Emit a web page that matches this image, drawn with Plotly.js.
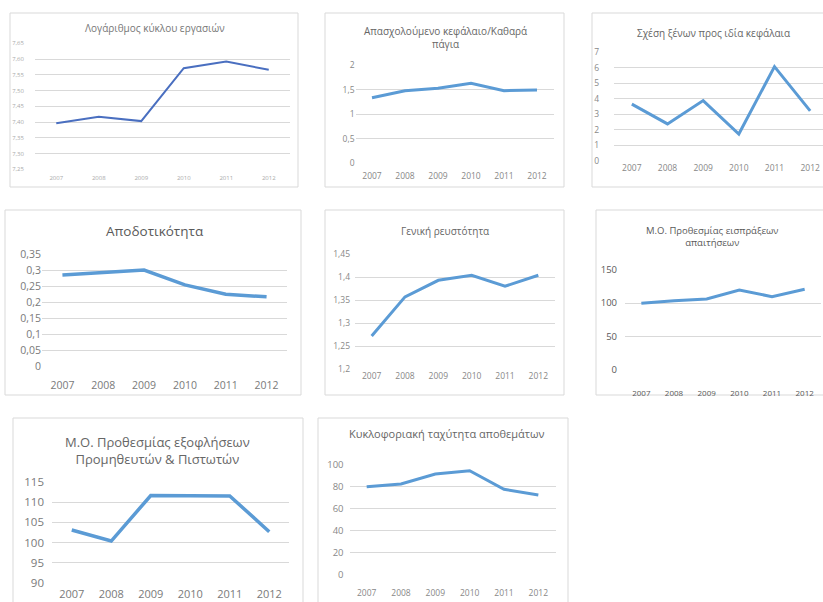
<!DOCTYPE html>
<html>
<head>
<meta charset="utf-8">
<script src="https://cdn.plot.ly/plotly-3.0.1.min.js"></script>
<style>html,body{margin:0;padding:0;background:#fff}#chart{width:823px;height:602px}</style>
</head>
<body>
<div id="chart"></div>
<script>
// ---- data ----
const years = ['2007', '2008', '2009', '2010', '2011', '2012'];

const titleLogTurnover = 'Λογάριθμος κύκλου εργασιών';
const logTurnover = [7.396, 7.417, 7.403, 7.571, 7.592, 7.566];
const logTurnoverTicks = [7.25, 7.30, 7.35, 7.40, 7.45, 7.50, 7.55, 7.60, 7.65];
const logTurnoverTickText = ['7,25', '7,30', '7,35', '7,40', '7,45', '7,50', '7,55', '7,60', '7,65'];

const titleCapital = 'Απασχολούμενο κεφάλαιο/Καθαρά<br>πάγια';
const capitalToFixed = [1.335, 1.478, 1.526, 1.628, 1.478, 1.49];
const capitalTicks = [0, 0.5, 1, 1.5, 2];
const capitalTickText = ['0', '0,5', '1', '1,5', '2'];

const titleDebt = 'Σχέση ξένων προς ιδία κεφάλαια';
const debtToEquity = [3.66, 2.39, 3.89, 1.74, 6.08, 3.23];
const debtTicks = [0, 1, 2, 3, 4, 5, 6, 7];
const debtTickText = ['0', '1', '2', '3', '4', '5', '6', '7'];

const titleProfit = 'Αποδοτικότητα';
const profitability = [0.285, 0.292, 0.300, 0.254, 0.225, 0.217];
const profitTicks = [0, 0.05, 0.1, 0.15, 0.2, 0.25, 0.3, 0.35];
const profitTickText = ['0', '0,05', '0,1', '0,15', '0,2', '0,25', '0,3', '0,35'];

const titleLiquidity = 'Γενική ρευστότητα';
const generalLiquidity = [1.272, 1.357, 1.393, 1.404, 1.380, 1.404];
const liquidityTicks = [1.2, 1.25, 1.3, 1.35, 1.4, 1.45];
const liquidityTickText = ['1,2', '1,25', '1,3', '1,35', '1,4', '1,45'];

const titleReceivables = 'Μ.Ο. Προθεσμίας εισπράξεων<br>απαιτήσεων';
const receivablesDays = [99.7, 103.6, 106.2, 119.8, 109.7, 120.8];
const receivablesTicks = [0, 50, 100, 150];
const receivablesTickText = ['0', '50', '100', '150'];

const titlePayables = 'Μ.Ο. Προθεσμίας εξοφλήσεων<br>Προμηθευτών &amp; Πιστωτών';
const payablesDays = [103.1, 100.4, 111.6, 111.5, 111.5, 102.7];
const payablesTicks = [90, 95, 100, 105, 110, 115];
const payablesTickText = ['90', '95', '100', '105', '110', '115'];

const titleInventory = 'Κυκλοφοριακή ταχύτητα αποθεμάτων';
const inventoryTurnover = [79.7, 82.2, 91.2, 94.2, 77.4, 72.2];
const inventoryTicks = [0, 20, 40, 60, 80, 100];
const inventoryTickText = ['0', '20', '40', '60', '80', '100'];

// ---- layout helpers (pixel geometry -> paper) ----
const W = 823, H = 602;
const px = v => v / W;
const py = v => 1 - v / H;
const FONT = 'Open Sans, Noto Sans, sans-serif';

const panels = [
  {title: titleLogTurnover, y: logTurnover, tv: logTurnoverTicks, tt: logTurnoverTickText,
   plot: [35, 290, 43.3, 169.3], xr: [-0.5, 5.5],
   box: [10, 13, 298, 187], tpos: [155, 28], tfs: 10, tcol: '#777',
   xfs: 6, yfs: 6, xso: 4, yso: 10, lc: '#4a6fc0', lw: 2, tickcol: '#aaa'},
  {title: titleCapital, y: capitalToFixed, tv: capitalTicks, tt: capitalTickText,
   plot: [355.5, 553.5, 65, 163.3], xr: [-0.5, 5.5],
   box: [325, 13, 564, 187], tpos: [445, 37.5], tfs: 10, tcol: '#666',
   xfs: 8.5, yfs: 8.5, xso: 6, yso: 4.5, lc: '#5b9bd5', lw: 3, tickcol: '#888'},
  {title: titleDebt, y: debtToEquity, tv: debtTicks, tt: debtTickText,
   plot: [614, 823, 52.3, 161], xr: [-0.5, 5.36],
   box: [592, 13, 830, 187], tpos: [713, 32.7], tfs: 10, tcol: '#666',
   xfs: 8.5, yfs: 8.5, xso: 7.5, yso: 14, lc: '#5b9bd5', lw: 3, tickcol: '#888'},
  {title: titleProfit, y: profitability, tv: profitTicks, tt: profitTickText,
   plot: [42, 287, 254, 366.7], xr: [-0.5, 5.5],
   box: [5, 210, 301, 395], tpos: [155, 230.7], tfs: 13.5, tcol: '#595959',
   xfs: 10.5, yfs: 10.5, xso: 11, yso: 0, lc: '#5b9bd5', lw: 3.5, tickcol: '#7a7a7a'},
  {title: titleLiquidity, y: generalLiquidity, tv: liquidityTicks, tt: liquidityTickText,
   plot: [355, 555, 254, 369.3], xr: [-0.5, 5.5],
   box: [325, 210, 564, 395], tpos: [445, 230.7], tfs: 10, tcol: '#666',
   xfs: 8.5, yfs: 8.5, xso: 7.5, yso: 4, lc: '#5b9bd5', lw: 3, tickcol: '#888'},
  {title: titleReceivables, y: receivablesDays, tv: receivablesTicks, tt: receivablesTickText,
   plot: [625, 821, 270, 369.3], xr: [-0.5, 5.5],
   box: [596, 210, 830, 395], tpos: [711.7, 236.7], tfs: 9.5, tcol: '#595959',
   xfs: 8, yfs: 9.5, xso: 18, yso: 7, lc: '#5b9bd5', lw: 3, tickcol: '#595959'},
  {title: titlePayables, y: payablesDays, tv: payablesTicks, tt: payablesTickText,
   plot: [52, 289, 481.7, 583.3], xr: [-0.5, 5.5],
   box: [13, 418, 303, 620], tpos: [157, 450.5], tfs: 13, tcol: '#666',
   xfs: 11, yfs: 11.5, xso: 3, yso: 7, lc: '#5b9bd5', lw: 3.5, tickcol: '#7a7a7a'},
  {title: titleInventory, y: inventoryTurnover, tv: inventoryTicks, tt: inventoryTickText,
   plot: [349.5, 555.5, 464.3, 575], xr: [-0.5, 5.5],
   box: [318, 418, 568, 620], tpos: [446.7, 433.3], tfs: 11, tcol: '#666',
   xfs: 8.5, yfs: 9.5, xso: 11, yso: 5, lc: '#5b9bd5', lw: 3, tickcol: '#888'}
];

const data = [];
const layout = {
  width: W, height: H,
  margin: {l: 0, r: 0, t: 0, b: 0},
  paper_bgcolor: '#ffffff',
  plot_bgcolor: 'rgba(0,0,0,0)',
  showlegend: false,
  separators: ',.',
  font: {family: FONT, color: '#7f7f7f'},
  shapes: [],
  annotations: []
};

panels.forEach((p, i) => {
  const n = i === 0 ? '' : String(i + 1);
  data.push({
    type: 'scatter', mode: 'lines',
    x: years, y: p.y,
    xaxis: 'x' + n, yaxis: 'y' + n,
    line: {color: p.lc, width: p.lw, shape: 'linear'},
    hoverinfo: 'skip'
  });
  const [l, r, t, b] = p.plot;
  layout['xaxis' + n] = {
    domain: [px(l), Math.min(1, px(r))],
    anchor: 'y' + n,
    type: 'category',
    range: p.xr,
    showgrid: false, zeroline: false, showline: false,
    ticks: '', ticklabelstandoff: p.xso,
    tickfont: {size: p.xfs, color: p.tickcol, family: FONT},
    fixedrange: true
  };
  layout['yaxis' + n] = {
    domain: [py(b), py(t)],
    anchor: 'x' + n,
    range: [p.tv[0], p.tv[p.tv.length - 1]],
    tickmode: 'array', tickvals: p.tv, ticktext: p.tt,
    showgrid: true, gridcolor: '#d9d9d9', gridwidth: 1,
    zeroline: false, showline: false,
    ticks: '', ticklabelstandoff: p.yso,
    tickfont: {size: p.yfs, color: p.tickcol, family: FONT},
    fixedrange: true
  };
  layout.shapes.push({
    type: 'rect', xref: 'paper', yref: 'paper', layer: 'below',
    x0: px(p.box[0]), x1: px(p.box[2]), y0: py(p.box[3]), y1: py(p.box[1]),
    line: {color: '#d9d9d9', width: 1}, fillcolor: 'rgba(0,0,0,0)'
  });
  layout.annotations.push({
    xref: 'paper', yref: 'paper',
    x: px(p.tpos[0]), y: py(p.tpos[1]),
    xanchor: 'center', yanchor: 'middle',
    text: p.title, showarrow: false,
    font: {size: p.tfs, color: p.tcol, family: FONT},
    align: 'center'
  });
});

Plotly.newPlot('chart', data, layout, {displayModeBar: false, staticPlot: true});
</script>
</body>
</html>
